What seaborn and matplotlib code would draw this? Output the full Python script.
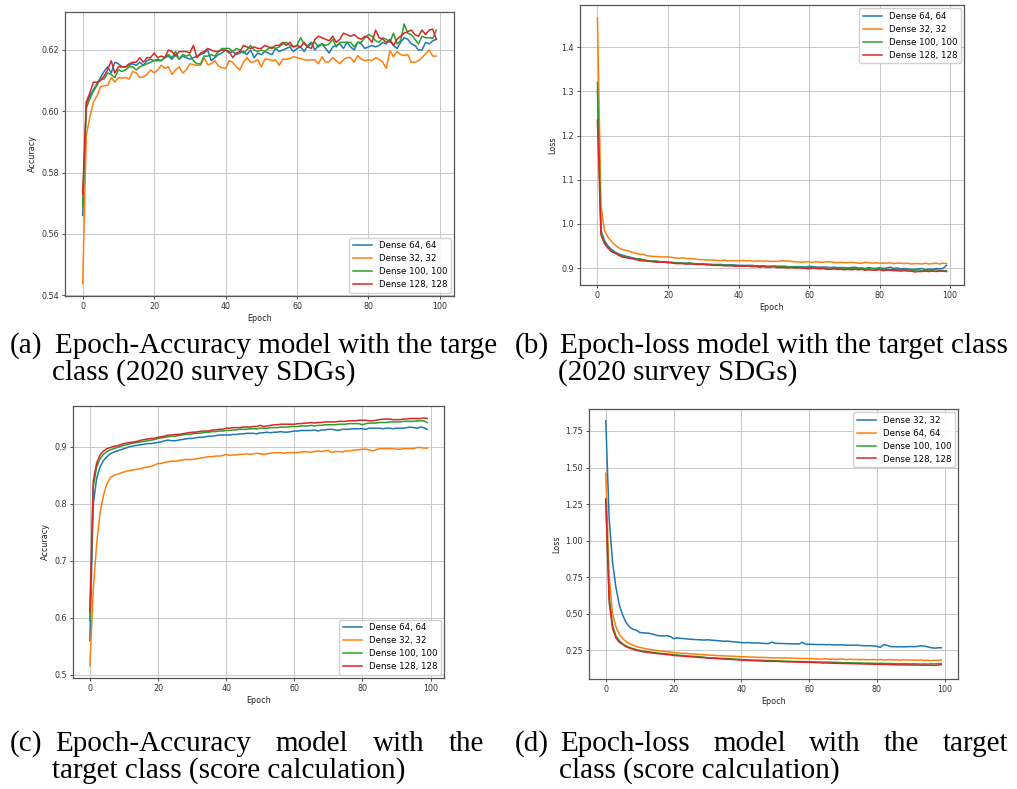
import matplotlib
matplotlib.use('Agg')
import pandas as pd
import seaborn as sns
import matplotlib.pyplot as plt

epochs = list(range(100))

# (a) accuracy, 2020 survey SDGs
acc_survey_64 = [
    0.566, 0.602, 0.605, 0.607, 0.609, 0.611, 0.613, 0.6145, 0.6125, 0.616,
    0.6155, 0.6145, 0.6145, 0.615, 0.6155, 0.615, 0.616, 0.615, 0.6165, 0.617,
    0.6165, 0.617, 0.6165, 0.6175, 0.618, 0.617, 0.6185, 0.617, 0.618, 0.6175,
    0.617, 0.6175, 0.618, 0.6185, 0.619, 0.620, 0.6165, 0.6175, 0.6185, 0.619,
    0.620, 0.619, 0.6195, 0.6185, 0.619, 0.6195, 0.6185, 0.620, 0.6175, 0.619,
    0.6185, 0.6195, 0.619, 0.6185, 0.6205, 0.6195, 0.620, 0.6205, 0.621, 0.6195,
    0.6205, 0.621, 0.6195, 0.6215, 0.6225, 0.620, 0.6215, 0.622, 0.6205, 0.619,
    0.621, 0.6215, 0.622, 0.6205, 0.6225, 0.621, 0.620, 0.6225, 0.622, 0.6205,
    0.621, 0.6215, 0.621, 0.6215, 0.6225, 0.622, 0.6235, 0.6215, 0.6205, 0.6225,
    0.624, 0.6235, 0.622, 0.6215, 0.620, 0.620, 0.6225, 0.622, 0.623, 0.6235]
acc_survey_32 = [
    0.5437, 0.592, 0.598, 0.603, 0.605, 0.608, 0.6083, 0.6085, 0.611, 0.6095,
    0.611, 0.6108, 0.611, 0.6105, 0.613, 0.6125, 0.611, 0.6112, 0.612, 0.6135,
    0.6125, 0.6135, 0.615, 0.614, 0.6145, 0.612, 0.6135, 0.6145, 0.6125, 0.6135,
    0.6155, 0.6152, 0.615, 0.615, 0.6175, 0.6152, 0.6155, 0.6165, 0.6148, 0.6142,
    0.614, 0.6165, 0.616, 0.6145, 0.6135, 0.616, 0.6175, 0.616, 0.6162, 0.6168,
    0.6145, 0.617, 0.617, 0.6165, 0.6168, 0.615, 0.617, 0.617, 0.6172, 0.6178,
    0.6175, 0.6172, 0.6168, 0.6167, 0.6168, 0.6168, 0.6155, 0.6178, 0.616, 0.6162,
    0.6175, 0.6165, 0.6155, 0.6168, 0.6175, 0.6175, 0.616, 0.6182, 0.617, 0.6165,
    0.6168, 0.6165, 0.6175, 0.617, 0.616, 0.614, 0.6198, 0.6178, 0.6195, 0.6185,
    0.6182, 0.6185, 0.616, 0.616, 0.6165, 0.6175, 0.6188, 0.620, 0.618, 0.618]
acc_survey_100 = [
    0.569, 0.601, 0.604, 0.6065, 0.6085, 0.6105, 0.6105, 0.6125, 0.612, 0.611,
    0.6135, 0.613, 0.6135, 0.6145, 0.6145, 0.6135, 0.6145, 0.615, 0.6155, 0.616,
    0.6165, 0.6165, 0.6165, 0.6175, 0.6185, 0.6175, 0.6195, 0.617, 0.6185, 0.618,
    0.6185, 0.6165, 0.6155, 0.6155, 0.618, 0.618, 0.6185, 0.618, 0.6195, 0.6205,
    0.6205, 0.6205, 0.6195, 0.6205, 0.620, 0.619, 0.620, 0.6215, 0.620, 0.6195,
    0.620, 0.6195, 0.6205, 0.621, 0.6205, 0.621, 0.622, 0.6225, 0.6215, 0.621,
    0.6215, 0.624, 0.622, 0.621, 0.622, 0.6225, 0.621, 0.622, 0.6215, 0.622,
    0.6235, 0.621, 0.6225, 0.6225, 0.6225, 0.6225, 0.621, 0.6225, 0.6225, 0.624,
    0.625, 0.6245, 0.623, 0.6225, 0.624, 0.6235, 0.6225, 0.6255, 0.622, 0.623,
    0.6285, 0.6255, 0.625, 0.6235, 0.622, 0.6245, 0.624, 0.624, 0.6238, 0.6265]
acc_survey_128 = [
    0.573, 0.603, 0.606, 0.6095, 0.6095, 0.610, 0.6115, 0.6135, 0.6165, 0.6125,
    0.6145, 0.6145, 0.6145, 0.6155, 0.616, 0.616, 0.6175, 0.616, 0.6175, 0.6175,
    0.619, 0.6175, 0.618, 0.6175, 0.620, 0.6195, 0.618, 0.6195, 0.6195, 0.6195,
    0.619, 0.6215, 0.6175, 0.619, 0.6195, 0.6205, 0.620, 0.6195, 0.6195, 0.620,
    0.620, 0.6195, 0.6175, 0.619, 0.6195, 0.6215, 0.621, 0.6205, 0.621, 0.6205,
    0.6205, 0.6215, 0.621, 0.6205, 0.6215, 0.6215, 0.6225, 0.6215, 0.6225, 0.621,
    0.6215, 0.621, 0.6225, 0.621, 0.6205, 0.6235, 0.6245, 0.624, 0.6235, 0.623,
    0.6245, 0.6225, 0.6235, 0.6255, 0.625, 0.6245, 0.625, 0.624, 0.6235, 0.6245,
    0.624, 0.6225, 0.6265, 0.624, 0.6235, 0.6225, 0.623, 0.6215, 0.6235, 0.6245,
    0.6255, 0.626, 0.6265, 0.625, 0.6245, 0.6265, 0.625, 0.6265, 0.6268, 0.6235]

# (b) loss, 2020 survey SDGs
loss_survey_64 = [
    1.30, 0.985, 0.962, 0.950, 0.942, 0.936, 0.932, 0.929, 0.927, 0.925,
    0.923, 0.921, 0.920, 0.918, 0.917, 0.916, 0.915, 0.915, 0.914, 0.914,
    0.913, 0.913, 0.912, 0.912, 0.911, 0.911, 0.911, 0.910, 0.910, 0.909,
    0.909, 0.909, 0.908, 0.908, 0.908, 0.908, 0.907, 0.907, 0.907, 0.907,
    0.906, 0.906, 0.906, 0.906, 0.905, 0.905, 0.905, 0.905, 0.904, 0.904,
    0.904, 0.904, 0.904, 0.904, 0.903, 0.903, 0.903, 0.903, 0.903, 0.902,
    0.904, 0.903, 0.902, 0.902, 0.902, 0.902, 0.901, 0.902, 0.901, 0.901,
    0.901, 0.900, 0.901, 0.902, 0.900, 0.900, 0.899, 0.901, 0.899, 0.899,
    0.901, 0.899, 0.900, 0.902, 0.899, 0.900, 0.898, 0.899, 0.898, 0.897,
    0.897, 0.898, 0.899, 0.896, 0.898, 0.897, 0.899, 0.898, 0.899, 0.906]
loss_survey_32 = [
    1.467, 1.040, 0.985, 0.970, 0.960, 0.952, 0.946, 0.942, 0.940, 0.938,
    0.935, 0.933, 0.931, 0.931, 0.928, 0.927, 0.926, 0.926, 0.925, 0.925,
    0.925, 0.924, 0.923, 0.922, 0.923, 0.922, 0.921, 0.921, 0.920, 0.919,
    0.919, 0.918, 0.918, 0.918, 0.917, 0.917, 0.918, 0.916, 0.917, 0.916,
    0.916, 0.917, 0.916, 0.917, 0.915, 0.916, 0.916, 0.915, 0.916, 0.915,
    0.915, 0.915, 0.916, 0.916, 0.916, 0.915, 0.914, 0.914, 0.913, 0.914,
    0.914, 0.913, 0.914, 0.913, 0.913, 0.914, 0.914, 0.913, 0.912, 0.913,
    0.912, 0.912, 0.913, 0.912, 0.911, 0.911, 0.913, 0.912, 0.911, 0.912,
    0.911, 0.911, 0.911, 0.912, 0.910, 0.911, 0.911, 0.910, 0.911, 0.909,
    0.910, 0.910, 0.909, 0.911, 0.909, 0.910, 0.911, 0.909, 0.911, 0.910]
loss_survey_100 = [
    1.32, 0.980, 0.958, 0.947, 0.938, 0.934, 0.930, 0.927, 0.925, 0.923,
    0.922, 0.920, 0.921, 0.918, 0.917, 0.916, 0.916, 0.915, 0.914, 0.914,
    0.913, 0.912, 0.912, 0.911, 0.911, 0.910, 0.911, 0.910, 0.909, 0.909,
    0.909, 0.908, 0.908, 0.907, 0.907, 0.907, 0.906, 0.906, 0.906, 0.905,
    0.905, 0.905, 0.905, 0.905, 0.906, 0.904, 0.904, 0.904, 0.903, 0.903,
    0.904, 0.903, 0.903, 0.902, 0.902, 0.903, 0.902, 0.902, 0.901, 0.901,
    0.902, 0.901, 0.901, 0.900, 0.901, 0.900, 0.900, 0.900, 0.899, 0.900,
    0.900, 0.899, 0.899, 0.900, 0.898, 0.899, 0.898, 0.898, 0.899, 0.897,
    0.898, 0.897, 0.897, 0.896, 0.897, 0.896, 0.896, 0.897, 0.895, 0.895,
    0.895, 0.896, 0.894, 0.895, 0.894, 0.895, 0.896, 0.894, 0.894, 0.894]
loss_survey_128 = [
    1.235, 0.975, 0.955, 0.945, 0.937, 0.934, 0.929, 0.925, 0.924, 0.922,
    0.921, 0.919, 0.917, 0.916, 0.916, 0.915, 0.914, 0.913, 0.913, 0.913,
    0.912, 0.912, 0.910, 0.910, 0.910, 0.909, 0.909, 0.909, 0.908, 0.908,
    0.908, 0.907, 0.907, 0.906, 0.906, 0.906, 0.905, 0.905, 0.905, 0.904,
    0.904, 0.904, 0.904, 0.904, 0.903, 0.903, 0.902, 0.903, 0.902, 0.902,
    0.903, 0.901, 0.901, 0.901, 0.900, 0.901, 0.900, 0.900, 0.900, 0.899,
    0.898, 0.900, 0.899, 0.898, 0.899, 0.897, 0.897, 0.898, 0.897, 0.897,
    0.896, 0.897, 0.896, 0.897, 0.896, 0.897, 0.895, 0.896, 0.895, 0.895,
    0.896, 0.894, 0.895, 0.895, 0.894, 0.894, 0.893, 0.894, 0.893, 0.893,
    0.891, 0.892, 0.892, 0.893, 0.892, 0.893, 0.892, 0.893, 0.893, 0.892]

# (c) accuracy, score calculation
acc_score_64 = [
    0.560, 0.800, 0.845, 0.865, 0.876, 0.883, 0.888, 0.891, 0.893, 0.895,
    0.897, 0.899, 0.901, 0.902, 0.903, 0.904, 0.905, 0.906, 0.906, 0.907,
    0.908, 0.909, 0.911, 0.912, 0.911, 0.911, 0.912, 0.913, 0.914, 0.915,
    0.915, 0.916, 0.917, 0.917, 0.918, 0.919, 0.919, 0.920, 0.921, 0.921,
    0.921, 0.921, 0.922, 0.922, 0.923, 0.923, 0.924, 0.924, 0.924, 0.923,
    0.925, 0.925, 0.926, 0.925, 0.926, 0.926, 0.927, 0.926, 0.926, 0.927,
    0.928, 0.928, 0.929, 0.929, 0.929, 0.929, 0.930, 0.928, 0.930, 0.930,
    0.931, 0.931, 0.930, 0.929, 0.931, 0.931, 0.931, 0.932, 0.932, 0.932,
    0.932, 0.931, 0.933, 0.933, 0.933, 0.933, 0.932, 0.933, 0.933, 0.932,
    0.933, 0.933, 0.933, 0.934, 0.935, 0.934, 0.933, 0.935, 0.934, 0.931]
acc_score_32 = [
    0.515, 0.650, 0.730, 0.785, 0.815, 0.835, 0.846, 0.850, 0.852, 0.854,
    0.856, 0.858, 0.859, 0.860, 0.861, 0.862, 0.864, 0.865, 0.866, 0.868,
    0.871, 0.871, 0.873, 0.874, 0.875, 0.875, 0.876, 0.877, 0.878, 0.878,
    0.878, 0.879, 0.880, 0.881, 0.882, 0.883, 0.883, 0.884, 0.884, 0.885,
    0.887, 0.885, 0.886, 0.886, 0.887, 0.887, 0.888, 0.887, 0.888, 0.889,
    0.888, 0.887, 0.888, 0.889, 0.890, 0.890, 0.890, 0.889, 0.890, 0.890,
    0.890, 0.890, 0.891, 0.892, 0.891, 0.891, 0.892, 0.893, 0.892, 0.893,
    0.894, 0.890, 0.892, 0.892, 0.891, 0.893, 0.893, 0.894, 0.895, 0.895,
    0.896, 0.896, 0.895, 0.893, 0.895, 0.897, 0.897, 0.897, 0.897, 0.897,
    0.896, 0.896, 0.897, 0.897, 0.897, 0.897, 0.899, 0.899, 0.898, 0.898]
acc_score_100 = [
    0.595, 0.830, 0.865, 0.880, 0.887, 0.892, 0.895, 0.897, 0.899, 0.901,
    0.903, 0.904, 0.906, 0.907, 0.908, 0.909, 0.910, 0.911, 0.912, 0.913,
    0.915, 0.916, 0.917, 0.918, 0.919, 0.919, 0.920, 0.921, 0.922, 0.922,
    0.923, 0.924, 0.924, 0.925, 0.926, 0.926, 0.927, 0.927, 0.928, 0.928,
    0.929, 0.929, 0.930, 0.930, 0.931, 0.931, 0.931, 0.932, 0.932, 0.932,
    0.933, 0.933, 0.933, 0.934, 0.934, 0.934, 0.935, 0.935, 0.935, 0.936,
    0.936, 0.936, 0.937, 0.937, 0.937, 0.938, 0.937, 0.938, 0.938, 0.939,
    0.939, 0.939, 0.939, 0.940, 0.940, 0.940, 0.941, 0.941, 0.941, 0.941,
    0.939, 0.941, 0.942, 0.942, 0.942, 0.943, 0.943, 0.943, 0.944, 0.944,
    0.944, 0.944, 0.945, 0.945, 0.945, 0.945, 0.946, 0.946, 0.946, 0.943]
acc_score_128 = [
    0.610, 0.840, 0.872, 0.886, 0.893, 0.897, 0.899, 0.901, 0.902, 0.904,
    0.906, 0.907, 0.908, 0.909, 0.910, 0.912, 0.913, 0.914, 0.915, 0.915,
    0.917, 0.918, 0.919, 0.921, 0.921, 0.922, 0.922, 0.923, 0.924, 0.925,
    0.926, 0.926, 0.927, 0.928, 0.928, 0.928, 0.930, 0.930, 0.931, 0.931,
    0.933, 0.933, 0.934, 0.934, 0.934, 0.935, 0.935, 0.935, 0.936, 0.936,
    0.938, 0.936, 0.937, 0.938, 0.939, 0.939, 0.940, 0.940, 0.940, 0.940,
    0.940, 0.941, 0.941, 0.942, 0.942, 0.943, 0.942, 0.943, 0.943, 0.944,
    0.944, 0.944, 0.944, 0.945, 0.945, 0.945, 0.946, 0.946, 0.946, 0.947,
    0.947, 0.947, 0.946, 0.946, 0.947, 0.948, 0.949, 0.949, 0.949, 0.948,
    0.948, 0.948, 0.949, 0.949, 0.950, 0.950, 0.950, 0.950, 0.951, 0.950]

# (d) loss, score calculation
loss_score_32 = [
    1.820, 1.150, 0.850, 0.680, 0.560, 0.490, 0.440, 0.410, 0.395, 0.388,
    0.372, 0.370, 0.368, 0.366, 0.360, 0.352, 0.350, 0.348, 0.350, 0.345,
    0.330, 0.336, 0.332, 0.330, 0.328, 0.326, 0.324, 0.323, 0.322, 0.320,
    0.322, 0.320, 0.318, 0.316, 0.314, 0.312, 0.313, 0.310, 0.308, 0.306,
    0.303, 0.302, 0.303, 0.301, 0.300, 0.302, 0.298, 0.297, 0.296, 0.306,
    0.298, 0.297, 0.297, 0.296, 0.295, 0.294, 0.294, 0.293, 0.305, 0.292,
    0.292, 0.291, 0.290, 0.289, 0.290, 0.288, 0.290, 0.287, 0.288, 0.286,
    0.288, 0.285, 0.286, 0.284, 0.286, 0.283, 0.282, 0.281, 0.282, 0.279,
    0.278, 0.270, 0.290, 0.284, 0.276, 0.275, 0.274, 0.275, 0.274, 0.275,
    0.276, 0.275, 0.277, 0.282, 0.279, 0.274, 0.268, 0.265, 0.267, 0.268]
loss_score_64 = [
    1.460, 0.750, 0.500, 0.410, 0.360, 0.330, 0.310, 0.295, 0.285, 0.277,
    0.270, 0.265, 0.260, 0.256, 0.253, 0.250, 0.247, 0.244, 0.241, 0.238,
    0.235, 0.233, 0.231, 0.229, 0.228, 0.226, 0.225, 0.223, 0.222, 0.220,
    0.218, 0.217, 0.216, 0.214, 0.213, 0.212, 0.211, 0.210, 0.209, 0.208,
    0.206, 0.206, 0.205, 0.204, 0.203, 0.202, 0.202, 0.201, 0.200, 0.199,
    0.198, 0.198, 0.197, 0.199, 0.196, 0.197, 0.195, 0.195, 0.194, 0.195,
    0.193, 0.193, 0.192, 0.190, 0.191, 0.192, 0.189, 0.190, 0.188, 0.190,
    0.189, 0.187, 0.189, 0.187, 0.188, 0.186, 0.188, 0.185, 0.186, 0.187,
    0.186, 0.187, 0.184, 0.185, 0.186, 0.184, 0.185, 0.183, 0.185, 0.184,
    0.183, 0.184, 0.182, 0.184, 0.181, 0.182, 0.180, 0.182, 0.181, 0.184]
loss_score_100 = [
    1.280, 0.620, 0.420, 0.350, 0.315, 0.295, 0.280, 0.270, 0.262, 0.255,
    0.250, 0.246, 0.242, 0.239, 0.236, 0.232, 0.230, 0.228, 0.225, 0.223,
    0.220, 0.218, 0.216, 0.214, 0.212, 0.210, 0.209, 0.207, 0.205, 0.203,
    0.200, 0.199, 0.198, 0.197, 0.195, 0.194, 0.193, 0.192, 0.190, 0.189,
    0.187, 0.186, 0.185, 0.184, 0.183, 0.183, 0.182, 0.181, 0.180, 0.179,
    0.178, 0.178, 0.177, 0.176, 0.176, 0.175, 0.174, 0.174, 0.173, 0.173,
    0.172, 0.172, 0.171, 0.170, 0.170, 0.169, 0.169, 0.168, 0.168, 0.167,
    0.165, 0.166, 0.165, 0.165, 0.164, 0.164, 0.163, 0.163, 0.162, 0.162,
    0.160, 0.162, 0.161, 0.160, 0.160, 0.159, 0.159, 0.158, 0.159, 0.158,
    0.157, 0.158, 0.157, 0.156, 0.157, 0.156, 0.158, 0.157, 0.159, 0.160]
loss_score_128 = [
    1.285, 0.580, 0.400, 0.335, 0.305, 0.290, 0.275, 0.265, 0.258, 0.250,
    0.245, 0.240, 0.237, 0.234, 0.231, 0.228, 0.226, 0.224, 0.221, 0.219,
    0.215, 0.213, 0.212, 0.210, 0.208, 0.206, 0.205, 0.203, 0.201, 0.200,
    0.197, 0.196, 0.195, 0.193, 0.192, 0.190, 0.189, 0.188, 0.187, 0.185,
    0.183, 0.182, 0.181, 0.180, 0.179, 0.178, 0.177, 0.176, 0.175, 0.175,
    0.175, 0.174, 0.173, 0.172, 0.171, 0.171, 0.170, 0.169, 0.169, 0.168,
    0.168, 0.167, 0.166, 0.166, 0.163, 0.164, 0.163, 0.162, 0.161, 0.161,
    0.160, 0.160, 0.159, 0.159, 0.158, 0.158, 0.157, 0.156, 0.156, 0.155,
    0.155, 0.154, 0.154, 0.153, 0.153, 0.152, 0.151, 0.150, 0.151, 0.150,
    0.150, 0.149, 0.150, 0.149, 0.148, 0.149, 0.148, 0.147, 0.149, 0.152]

colors = ['#1f77b4', '#ff7f0e', '#2ca02c', '#d62728']

panels = [
    # (left, top, right, bottom) in pixels, ylabel, series, yticks, ylim, legend loc
    ((65, 12, 454, 296), 'Accuracy',
     [('Dense 64, 64', acc_survey_64), ('Dense 32, 32', acc_survey_32),
      ('Dense 100, 100', acc_survey_100), ('Dense 128, 128', acc_survey_128)],
     [0.54, 0.56, 0.58, 0.60, 0.62], (0.5397, 0.6324), 'lower right', '%.2f'),
    ((580, 5, 964, 285), 'Loss',
     [('Dense 64, 64', loss_survey_64), ('Dense 32, 32', loss_survey_32),
      ('Dense 100, 100', loss_survey_100), ('Dense 128, 128', loss_survey_128)],
     [0.9, 1.0, 1.1, 1.2, 1.3, 1.4], (0.8615, 1.4957), 'upper right', '%.1f'),
    ((73, 406, 444, 678), 'Accuracy',
     [('Dense 64, 64', acc_score_64), ('Dense 32, 32', acc_score_32),
      ('Dense 100, 100', acc_score_100), ('Dense 128, 128', acc_score_128)],
     [0.5, 0.6, 0.7, 0.8, 0.9], (0.494, 0.972), 'lower right', '%.1f'),
    ((589, 409, 958, 679), 'Loss',
     [('Dense 32, 32', loss_score_32), ('Dense 64, 64', loss_score_64),
      ('Dense 100, 100', loss_score_100), ('Dense 128, 128', loss_score_128)],
     [0.25, 0.50, 0.75, 1.00, 1.25, 1.50, 1.75], (0.054, 1.90), 'upper right', '%.2f'),
]

W, H = 1017, 789
fig = plt.figure(figsize=(W / 100, H / 100), dpi=100)
fs = 5.8

for (l, t, r, b), ylabel, series, yticks, ylim, loc, fmt in panels:
    ax = fig.add_axes([l / W, 1 - b / H, (r - l) / W, (b - t) / H])
    for (label, vals), c in zip(series, colors):
        df = pd.DataFrame({'Epoch': epochs, ylabel: vals})
        sns.lineplot(data=df, x='Epoch', y=ylabel, color=c, label=label,
                     linewidth=1.1, ax=ax)
    ax.set_xlim(-4.95, 103.95)
    ax.set_ylim(*ylim)
    ax.set_xticks([0, 20, 40, 60, 80, 100])
    ax.set_yticks(yticks)
    ax.yaxis.set_major_formatter(matplotlib.ticker.FormatStrFormatter(fmt))
    ax.grid(True, color='#c8c8c8', linewidth=0.7)
    ax.tick_params(labelsize=fs, length=2.5, width=0.6, pad=2, colors='#333333')
    ax.set_xlabel('Epoch', fontsize=fs, labelpad=2, color='#222222')
    ax.set_ylabel(ylabel, fontsize=fs, labelpad=3, color='#222222')
    for sp in ax.spines.values():
        sp.set_color('#555555')
        sp.set_linewidth(0.9)
    ax.legend(loc=loc, fontsize=6.2, frameon=True, framealpha=0.9,
              edgecolor='#cccccc', fancybox=True, handlelength=2.2,
              labelspacing=0.45, borderpad=0.4, borderaxespad=0.4)

# captions
serif = 'Liberation Serif'
cap_fs = 21


def put(x, y, s):
    return fig.text(x / W, 1 - y / H, s, fontsize=cap_fs, family=serif,
                    va='baseline', ha='left', color='black')


def justify(words, x0, x1, y):
    texts = [put(x0, y, w) for w in words]
    renderer = fig.canvas.get_renderer()
    widths = [tx.get_window_extent(renderer).width for tx in texts]
    gap = (x1 - x0 - sum(widths)) / (len(words) - 1)
    x = x0
    for tx, w in zip(texts, widths):
        tx.set_x(x / W)
        x += w + gap


put(10, 353, '(a)')
put(55, 353, 'Epoch-Accuracy model with the targe')
put(52, 380, 'class (2020 survey SDGs)')
put(515, 353, '(b)')
put(560, 353, 'Epoch-loss model with the target class')
put(558, 380, '(2020 survey SDGs)')
put(10, 751, '(c)')
justify(['Epoch-Accuracy', 'model', 'with', 'the'], 55, 484, 751)
put(52, 778, 'target class (score calculation)')
put(515, 751, '(d)')
justify(['Epoch-loss', 'model', 'with', 'the', 'target'], 560, 1008, 751)
put(559, 778, 'class (score calculation)')

fig.savefig('out.png', dpi=100)
